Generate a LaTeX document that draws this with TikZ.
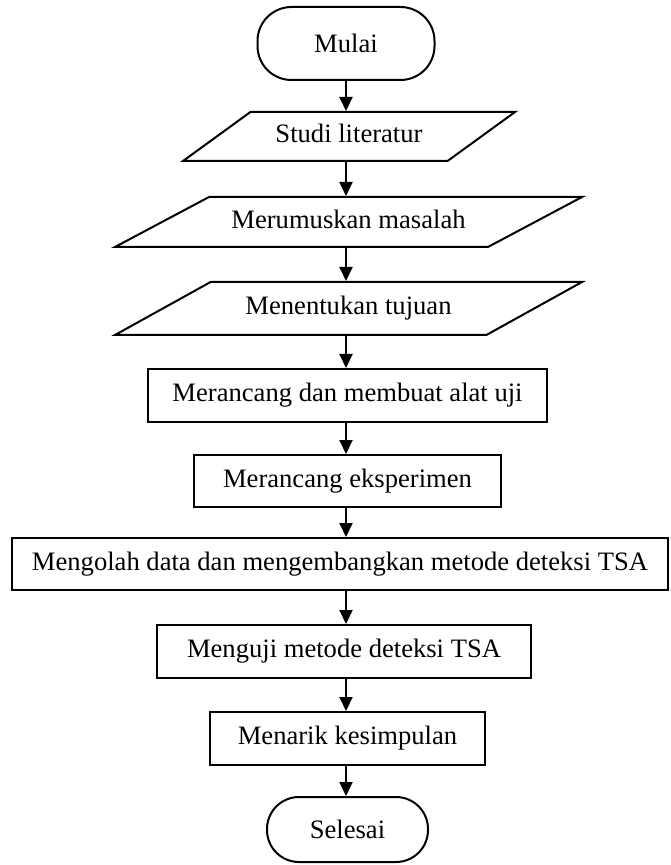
\documentclass[tikz,border=0pt]{standalone}
\usepackage{fontspec}
\setmainfont{Liberation Serif}
\usetikzlibrary{shapes.geometric,arrows.meta}

\begin{document}
\begin{tikzpicture}[x=0.5pt,y=-0.5pt,line width=1pt,
  font=\fontsize{13.3}{16}\selectfont,
  terminal/.style={draw,rectangle,rounded corners=#1,inner sep=0pt},
  process/.style={draw,rectangle,inner sep=0pt},
  io/.style={draw,trapezium,trapezium stretches body,text height=9.5pt,
    text depth=3pt,inner xsep=0pt,inner ysep=#1},
  arr/.style={-{Triangle[length=7pt,width=6.5pt]}}]
  \useasboundingbox (0,0) rectangle (670,865);

  % start / input / process
  \node[terminal=17pt,minimum width=88.5pt,minimum height=36.5pt] (mulai) at (346,43.5) {Mulai};
  \node[io=6pt,trapezium left angle=36,trapezium right angle=144,
        minimum width=166pt] (studi) at (349,136.5) {Studi literatur};
  \node[io=6.25pt,trapezium left angle=28,trapezium right angle=152,
        minimum width=233.5pt] (rumus) at (348.5,222) {Merumuskan masalah};
  \node[io=7pt,trapezium left angle=29,trapezium right angle=151,
        minimum width=233.5pt] (tujuan) at (348.5,308.5) {Menentukan tujuan};
  \node[process,minimum width=199.5pt,minimum height=26.5pt] (alat) at (347.5,395.5) {Merancang dan membuat alat uji};
  \node[process,minimum width=153.5pt,minimum height=26pt] (eksp) at (347.5,481) {Merancang eksperimen};
  \node[process,minimum width=328pt,minimum height=26pt] (olah) at (340,564) {Mengolah data dan mengembangkan metode deteksi TSA};
  \node[process,minimum width=187pt,minimum height=26.5pt] (uji) at (344,651.5) {Menguji metode deteksi TSA};
  \node[process,minimum width=137.5pt,minimum height=26.5pt] (tarik) at (347.5,738.5) {Menarik kesimpulan};
  \node[terminal=16pt,minimum width=80.5pt,minimum height=32.5pt] (selesai) at (347.5,829.5) {Selesai};

  % arrows
  \foreach \a/\b in {mulai/studi,studi/rumus,rumus/tujuan,tujuan/alat,alat/eksp,
                     eksp/olah,olah/uji,uji/tarik,tarik/selesai}
    \draw[arr] (\a.south -| mulai) -- (\b.north -| mulai);
\end{tikzpicture}
\end{document}
